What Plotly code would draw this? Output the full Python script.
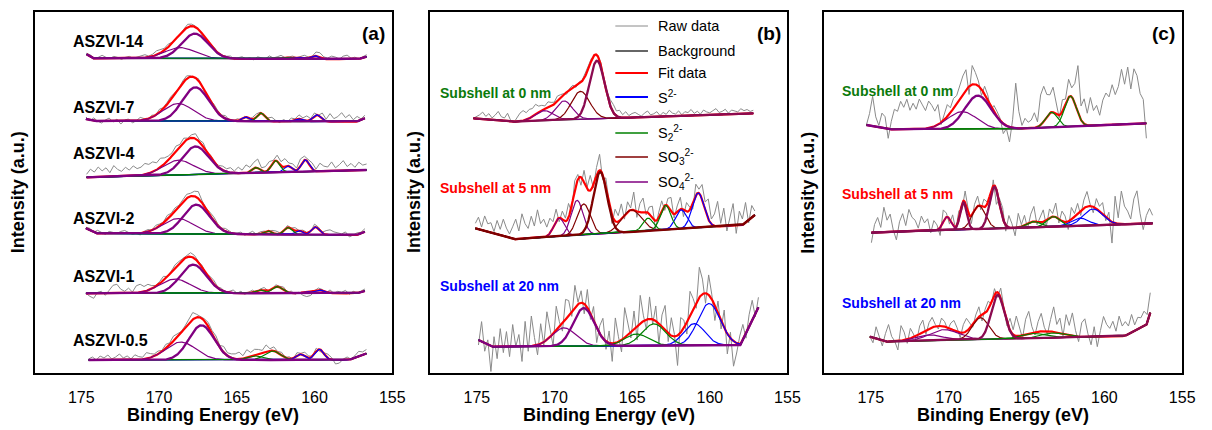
import numpy as np
import plotly.graph_objects as go

FONT = "Liberation Sans, Arial, Helvetica, sans-serif"
W, H = 1212, 430

# ------------------------------------------------------------------
# Panel (a): S 2p spectra of the ASZVI samples (stacked, arb. units)
# ------------------------------------------------------------------
a_names = ["ASZVI-14", "ASZVI-7", "ASZVI-4", "ASZVI-2", "ASZVI-1", "ASZVI-0.5"]

# Shirley-type background knots: binding energy (eV) and intensity
a14_bg_e = [174.66, 174.28, 157.2, 156.65]
a14_bg_i = [318.7, 314.7, 313.8, 316.3]
a7_bg_e = [174.7, 174.17, 157.3, 156.76]
a7_bg_i = [254.0, 252.0, 251.3, 254.7]
a4_bg_e = [174.66, 156.65]
a4_bg_i = [195.7, 203.0]
a2_bg_e = [174.7, 174.07, 157.29, 156.76]
a2_bg_i = [144.7, 139.7, 138.0, 141.3]
a1_bg_e = [174.7, 157.3, 156.76]
a1_bg_i = [79.7, 79.7, 82.0]
a05_bg_e = [174.53, 157.8, 156.66]
a05_bg_i = [13.0, 13.0, 19.5]

# fitted components: centre (eV), height above background, FWHM (eV), species
a14_c = [168.65, 167.7, 161.8, 161.0, 160.0]
a14_h = [11.0, 25.0, 1.5, 1.5, 3.3]
a14_w = [2.3, 2.0, 0.6, 0.6, 0.6]
a14_s = ["SO4", "SO4", "S22", "S2", "S2"]

a7_c = [168.75, 167.65, 164.4, 163.45, 161.0, 159.85]
a7_h = [17.7, 34.0, 4.3, 8.3, 2.7, 6.7]
a7_w = [2.3, 2.0, 0.6, 0.6, 0.6, 0.6]
a7_s = ["SO4", "SO4", "S2", "S22", "S2", "S2"]

a4_c = [168.76, 167.65, 163.77, 162.5, 161.7, 160.6]
a4_h = [14.7, 28.0, 5.3, 11.7, 6.0, 11.7]
a4_w = [2.3, 2.0, 0.6, 0.65, 0.6, 0.6]
a4_s = ["SO4", "SO4", "S22", "S22", "S2", "S2"]

a2_c = [168.76, 167.6, 163.0, 161.7, 161.0, 159.95]
a2_h = [15.3, 29.3, 3.5, 7.0, 4.0, 7.7]
a2_w = [2.3, 2.0, 0.6, 0.6, 0.6, 0.6]
a2_s = ["SO4", "SO4", "S22", "S22", "S2", "S2"]

a1_c = [168.97, 167.8, 163.5, 162.4, 160.5, 159.7]
a1_h = [14.3, 28.7, 3.3, 6.7, 1.5, 3.3]
a1_w = [2.3, 2.0, 0.8, 0.8, 0.6, 0.8]
a1_s = ["SO4", "SO4", "S22", "S22", "S2", "S2"]

a05_c = [168.6, 167.27, 163.8, 162.7, 160.9, 159.7]
a05_h = [18.0, 34.7, 4.0, 9.0, 5.7, 10.7]
a05_w = [2.3, 1.9, 1.2, 1.2, 0.7, 0.7]
a05_s = ["SO4", "SO4", "S22", "S22", "S2", "S2"]

# raw counts minus fitted envelope, on an even energy grid across each scan
a14_res = [1, 2, 0, 1, 3, 1, 0, 2, 1, -1, 1, 2, 0, 1, 2, 3, 1, 2, 4, 3, 2, 3, 1, 0, -1, 1, 3, 2, 1, 0,
           -2, -1, 1, 2, -1, 0, 1, 2, -1, 1, 2, 0, 1, -1, 2, 1, 0, 3, 1, 2, 3, 0, 1, 2, 0, 1, 3, 1, 0, 4,
           5, 2, 1, 3, 2, 0, 3, 4, 1, 2, 0, 1, 2]
a7_res = [2, -1, 3, 0, -2, 1, 3, -1, 2, -3, 1, 2, -2, 0, 3, 1, -1, 2, 0, 3, 1, 2, 3, 1, 0, 2, 3, 1, -1, 2,
          0, -2, 1, 3, 2, 1, 3, 0, -1, 2, 0, 1, -2, 2, 3, 1, 0, 2, 4, 1, -1, 2, 0, 3, 1, 4, 2, 5, 1, 3,
          0, 6, 2, 8, 3, 5, 9, 4, 7, 2, 5, 1, 3]
a4_res = [3, 8, 5, 10, 6, 9, 4, 11, 7, 5, 9, 6, 10, 7, 8, 11, 9, 10, 7, 9, 6, 4, 3, 5, 2, 4, 1, 3, 5, 2,
          4, 0, 3, 1, 2, 4, 3, 5, 2, 6, 3, 8, 4, 6, 9, 3, 5, 7, 2, 6, 4, 8, 3, 5, 2, 7, 4, 3, 6, 2,
          8, 5, 4, 9, 3, 6, 10, 4, 7, 3, 8, 5, 6]
a2_res = [1, 2, 0, 3, 1, -1, 2, 1, 0, 2, 3, 1, -1, 0, -2, 1, 2, 0, 3, 2, 1, 4, 2, 3, 1, 2, 4, 3, 5, 7,
          2, 1, 3, 4, 2, 1, 3, 2, 0, 1, 2, -1, 1, 3, 0, 2, 1, -1, 2, 3, 1, 0, 2, 1, 3, 0, 2, 1, -1, 3,
          2, 1, 4, 5, 3, 2, 1, 3, -2, 0, 2, 1, 3]
a1_res = [0, -3, -5, 1, 2, -2, 3, 8, 9, 4, 2, 5, 1, 7, 8, 5, 6, 3, 1, 2, 4, 0, 1, 3, 2, 1, 2, 4, 3, 1,
          2, 0, 3, 4, 1, 2, -1, 1, 3, 0, 2, -1, 1, 2, -2, 1, 3, 0, -1, 2, 1, 3, 0, 2, -1, 1, -3, -5, -4, 0,
          2, 1, -1, 3, 0, 2, 1, 3, -1, 2, 0, 1, 2]
a05_res = [1, 3, 0, 4, 2, 5, 1, 3, 6, 2, 4, 1, 5, 3, 2, 6, 4, 2, 3, 1, 4, 2, 5, 3, 1, 2, 4, 7, 3, 1,
           2, 4, 3, 5, 2, 6, 3, 4, 5, 7, 3, 8, 4, 6, 5, 3, 7, 2, 4, 1, 3, 0, 2, -1, 3, 1, 4, 2, 0, 3,
           -2, 1, 4, 2, -4, -3, 1, 3, 0, 2, 5, 3, 4]

# ------------------------------------------------------------------
# Panel (b): depth profile, subshell at 0 / 5 / 20 nm
# ------------------------------------------------------------------
b_names = ["Subshell at 0 nm", "Subshell at 5 nm", "Subshell at 20 nm"]

b0_bg_e = [175.23, 172.7, 157.2]
b0_bg_i = [254.7, 251.3, 259.7]
b0_c = [170.67, 169.4, 168.33, 167.27]
b0_h = [10.0, 19.0, 28.0, 58.0]
b0_w = [1.4, 1.3, 1.4, 1.15]
b0_s = ["SO4", "SO4", "SO3", "SOx"]
b0_res = [0, 2, 4, 7, 3, 6, 2, 5, 9, 4, 3, 8, 1, -1, 3, 8, 10, 7, 9, 8, 10, 6, 5, 3, 6, 4, 2, 5, 3, 1,
          -2, 2, 3, -1, 2, 1, 3, 4, 2, -1, 1, 3, 0, 2, 6, 8, 5, 7, 3, 6, 2, 4, 5, 3, 1, 4, 6, 2, 3, 5,
          1, 4, 2, 6, 3, 2, 5, 1, 4, 3, 6, 2, 4, 1, 5, 3, 2, 4, 6, 2, 3, 5, 1, 4, 3, 2, 5, 3, 4, 2, 3]

b5_bg_e = [175.1, 172.6, 157.9, 157.1]
b5_bg_i = [144.7, 133.7, 148.0, 158.0]
b5_c = [169.7, 168.55, 168.12, 167.06, 165.05, 163.98, 162.85, 161.85, 160.75]
b5_h = [18.3, 35.0, 31.0, 62.0, 22.0, 12.7, 24.3, 19.0, 34.7]
b5_w = [0.8, 0.9, 1.0, 1.05, 1.5, 0.8, 0.8, 0.85, 0.9]
b5_s = ["SO4", "SO4", "SO3", "SO3", "SO3", "S22", "S22", "S2", "S2"]
b5_res = [5, 12, 3, 15, 8, 10, 2, 14, 6, 17, 9, 4, 12, 20, 8, 25, 15, 10, 22, 12, 28, 14, 18, 9, 15,
          6, 12, -4, 8, 3, 14, -6, 10, 5, -8, 12, 2, 15, -3, 8, 16, -5, 10, 4, -8, 12, 6, 15, -4, 10,
          2, 18, -6, 9, 14, -3, 7, 12, -8, 5, 10, -5, 8, 14, -4, 6, 12, -7, 9, 3, -6, 11, 4, 15, 8,
          20, 5, 12, 25, 3, 18, -5, 10, 22, -8, 14, 6, 20, -3, 12, 4]

b20_bg_e = [174.9, 174.07, 158.03, 156.87]
b20_bg_i = [33.0, 26.3, 28.0, 65.7]
b20_c = [169.39, 168.12, 164.72, 163.6, 161.0, 160.05]
b20_h = [18.3, 38.0, 11.7, 21.7, 21.7, 41.7]
b20_w = [1.8, 1.6, 1.8, 1.8, 1.6, 1.7]
b20_s = ["SO4", "SO4", "S22", "S22", "S2", "S2"]
b20_res = [-5, 20, -8, 5, -25, 10, -12, 18, -6, 15, -10, 22, 0, 12, -15, 25, -5, 30, 8, -10, 20, -3,
           28, 10, -12, 24, 5, -8, 20, 15, -5, 22, 2, 12, -10, 18, -6, 14, -15, 8, 20, -8, 12, -18,
           25, 5, -12, 30, 10, -6, 18, -14, 28, 6, -10, 22, -5, 15, -20, 12, 25, -8, 18, 2, -30, 15,
           8, -12, 24, 10, -6, 30, 15, -10, 20, 5, -15, 12, -8, 18, -20, 6, -25, -10, 8, 15, -5, 12,
           20, -3, 10]

# ------------------------------------------------------------------
# Panel (c): depth profile of the second sample
# ------------------------------------------------------------------
c_names = ["Subshell at 0 nm", "Subshell at 5 nm", "Subshell at 20 nm"]

c0_bg_e = [175.28, 173.9, 166.5, 157.3]
c0_bg_i = [248.0, 243.7, 243.7, 249.7]
c0_c = [169.12, 168.12, 163.39, 162.18]
c0_h = [17.7, 33.7, 15.0, 30.3]
c0_w = [2.2, 2.0, 0.9, 0.9]
c0_s = ["SO4", "SO4", "S22", "S22"]
c0_res = [0, 12, 30, 10, 2, 15, 12, -9, 8, 20, 18, 28, 22, 30, 19, 26, 20, 30, 24, 18, 27, 22, 15,
          20, -2, 6, 12, 5, 10, 8, 14, 18, 20, -8, 19, 12, 5, -6, 8, 5, -4, 6, 5, 2, -10, -3, -15, 8,
          45, 17, 3, 10, 6, 8, 15, 5, 30, 35, 22, 18, 25, 10, -3, 12, 5, 18, 9, 20, 47, 14, 25, 12,
          28, 15, 20, 10, 25, 32, 28, 40, 30, 38, 55, 40, 57, 35, 55, 48, 30, 24, -15]

c5_bg_e = [174.96, 156.9]
c5_bg_i = [140.3, 149.7]
c5_c = [170.1, 169.05, 168.06, 167.06, 164.55, 163.28, 161.58, 160.73]
c5_h = [13.3, 27.3, 23.3, 41.7, 5.7, 10.0, 7.7, 16.3]
c5_w = [0.6, 0.5, 1.0, 0.75, 1.0, 1.0, 1.3, 1.5]
c5_s = ["SO4", "SOx", "SO3", "SOx", "S22", "S22", "S2", "S2"]
c5_res = [-10, 8, 15, 5, 25, 12, 18, 2, -8, 10, 18, 6, 22, 14, 11, 3, 15, 8, 12, -2, 10, 5, -8, 12,
          4, -5, 10, -3, 8, -6, 12, 4, -8, 6, 10, -4, 8, 2, -10, 6, -15, 5, 10, -6, 12, 4, -8, 14,
          2, 10, -5, 8, 15, -3, 6, 12, -6, 9, 3, 14, -4, 10, 6, -8, 12, 3, 10, -5, 8, 15, 2, -6, 10,
          5, 12, -3, 8, -21, 27, 6, 33, 18, 13, 5, 25, 33, 10, -6, 8, 15, 8]

c20_bg_e = [175.06, 174.1, 158.7, 157.3, 157.05]
c20_bg_i = [36.3, 31.3, 37.0, 48.0, 60.3]
c20_c = [171.24, 170.29, 167.95, 166.85, 164.55, 163.28]
c20_h = [5.7, 10.7, 21.7, 44.0, 4.7, 4.7]
c20_w = [2.0, 2.2, 1.25, 1.0, 1.8, 1.8]
c20_s = ["SO4", "SO4", "SO3", "SOx", "S22", "S22"]
c20_res = [0, -5, 12, 3, -5, 8, 17, 5, 0, -9, 15, 8, -4, 10, 3, -6, 8, 12, -4, 6, 10, 2, -3, 8, 5,
           -2, 6, 10, 4, -5, 8, 13, 6, -3, 5, 10, -6, 4, 8, -2, 6, -5, 10, 3, -4, 12, 5, 20, 8, -3,
           15, 22, 6, -3, 10, 18, 4, -3, 12, 25, 8, 15, -2, 20, 10, 23, 6, -5, 14, 18, 3, -8, 10,
           -10, 6, 20, 12, 8, 15, 5, 20, 10, 14, 8, 18, 6, 12, 10, 15, 8, 20]

tick_vals = [175, 170, 165, 160, 155]
legend_labels = ["Raw data", "Background", "Fit data", "S<sup>2-</sup>",
                 "S<sub>2</sub><sup>2-</sup>", "SO<sub>3</sub><sup>2-</sup>",
                 "SO<sub>4</sub><sup>2-</sup>"]

# ------------------------------------------------------------------
# styling
# ------------------------------------------------------------------
RAW_COLOR = "#8a8a8a"
BG_COLOR = "#555555"
FIT_COLOR = "#ff0000"
SPECIES_COLOR = {"S2": "#0000ff", "S22": "#008000", "SO3": "#800000",
                 "SO4": "#800080", "SOx": "#8b0a50"}
DRAW_ORDER = {"SO4": 0, "SO3": 1, "SOx": 2, "S2": 3, "S22": 4}


def peak(e, c, h, w):
    return h * np.exp(-4.0 * np.log(2.0) * ((e - c) / w) ** 2)


spectra = [
    (0, a14_bg_e, a14_bg_i, a14_c, a14_h, a14_w, a14_s, a14_res),
    (0, a7_bg_e, a7_bg_i, a7_c, a7_h, a7_w, a7_s, a7_res),
    (0, a4_bg_e, a4_bg_i, a4_c, a4_h, a4_w, a4_s, a4_res),
    (0, a2_bg_e, a2_bg_i, a2_c, a2_h, a2_w, a2_s, a2_res),
    (0, a1_bg_e, a1_bg_i, a1_c, a1_h, a1_w, a1_s, a1_res),
    (0, a05_bg_e, a05_bg_i, a05_c, a05_h, a05_w, a05_s, a05_res),
    (1, b0_bg_e, b0_bg_i, b0_c, b0_h, b0_w, b0_s, b0_res),
    (1, b5_bg_e, b5_bg_i, b5_c, b5_h, b5_w, b5_s, b5_res),
    (1, b20_bg_e, b20_bg_i, b20_c, b20_h, b20_w, b20_s, b20_res),
    (2, c0_bg_e, c0_bg_i, c0_c, c0_h, c0_w, c0_s, c0_res),
    (2, c5_bg_e, c5_bg_i, c5_c, c5_h, c5_w, c5_s, c5_res),
    (2, c20_bg_e, c20_bg_i, c20_c, c20_h, c20_w, c20_s, c20_res),
]

fig = go.Figure()


def axis_ids(k):
    return ("x", "y") if k == 0 else (f"x{k + 1}", f"y{k + 1}")


for panel, bg_e, bg_i, cen, hgt, fwhm, species, res in spectra:
    xa, ya = axis_ids(panel)
    e = np.linspace(bg_e[0], bg_e[-1], 900)
    bg = np.interp(e, np.asarray(bg_e)[::-1], np.asarray(bg_i)[::-1])
    comps = [peak(e, c, h, w) for c, h, w in zip(cen, hgt, fwhm)]
    fit = bg + np.sum(comps, axis=0)

    e_raw = np.linspace(bg_e[0], bg_e[-1], len(res))
    raw = np.interp(e_raw, e[::-1], fit[::-1]) + np.asarray(res, dtype=float)

    common = dict(xaxis=xa, yaxis=ya, mode="lines", showlegend=False, hoverinfo="skip")
    fig.add_trace(go.Scatter(x=e_raw, y=raw, line=dict(color=RAW_COLOR, width=1), **common))
    fig.add_trace(go.Scatter(x=e, y=bg, line=dict(color=BG_COLOR, width=1.5), **common))
    fig.add_trace(go.Scatter(x=e, y=fit, line=dict(color=FIT_COLOR, width=2.2), **common))

    # the dominant oxidised-sulfur component (and unresolved SOx peaks) are drawn bold
    oxide = [i for i, s in enumerate(species) if s in ("SO3", "SO4", "SOx")]
    bold = {max(oxide, key=lambda i: hgt[i])} | {i for i, s in enumerate(species) if s == "SOx"}
    thin = sorted([i for i in range(len(cen)) if i not in bold], key=lambda i: DRAW_ORDER[species[i]])
    for i in thin + sorted(bold):
        fig.add_trace(go.Scatter(
            x=e, y=bg + comps[i],
            line=dict(color=SPECIES_COLOR[species[i]], width=2.3 if i in bold else 1.2),
            **common))

# ------------------------------------------------------------------
# axes / frames
# ------------------------------------------------------------------
frame_left = [35, 435, 833]
frame_right = [396.5, 796, 1195]
frame_top, frame_bottom = 12.3, 373.0

layout = dict(
    width=W, height=H, margin=dict(l=0, r=0, t=0, b=0),
    paper_bgcolor="white", plot_bgcolor="white",
    font=dict(family=FONT, color="black"),
)
for k in range(3):
    xname = "xaxis" if k == 0 else f"xaxis{k + 1}"
    yname = "yaxis" if k == 0 else f"yaxis{k + 1}"
    xa, ya = axis_ids(k)
    layout[xname] = dict(
        domain=[frame_left[k] / W, frame_right[k] / W], anchor=ya,
        range=[178, 155], tickvals=tick_vals, ticktext=[str(v) for v in tick_vals],
        ticks="outside", ticklen=9, tickcolor="rgba(0,0,0,0)",
        tickfont=dict(size=16, family=FONT, color="black"),
        showgrid=False, zeroline=False, showline=True, mirror=True,
        linecolor="black", linewidth=1.5,
    )
    layout[yname] = dict(
        domain=[1 - frame_bottom / H, 1 - frame_top / H], anchor=xa,
        range=[0, 360.7], showticklabels=False, ticks="",
        showgrid=False, zeroline=False, showline=True, mirror=True,
        linecolor="black", linewidth=1.5,
    )
fig.update_layout(**layout)

ann = []
# axis titles and panel tags
for k, tag in enumerate(["(a)", "(b)", "(c)"]):
    cx = (frame_left[k] + frame_right[k]) / 2
    ann.append(dict(text="<b>Binding Energy (eV)</b>", xref="paper", yref="paper",
                    x=cx / W, y=1 - 415 / H, xanchor="center", yanchor="middle",
                    showarrow=False, font=dict(size=18, family=FONT)))
    ann.append(dict(text="<b>Intensity (a.u.)</b>", xref="paper", yref="paper",
                    x=(frame_left[k] - 17) / W, y=1 - 192.5 / H, xanchor="center",
                    yanchor="middle", textangle=-90, showarrow=False,
                    font=dict(size=18, family=FONT)))
    ann.append(dict(text=f"<b>{tag}</b>", xref="paper", yref="paper",
                    x=(frame_right[k] - 19) / W, y=1 - 33 / H, xanchor="center",
                    yanchor="middle", showarrow=False, font=dict(size=19, family=FONT)))

# sample names, panel (a)
a_label_y = [331, 265.7, 219.7, 154.7, 96.3, 32]
for name, yv in zip(a_names, a_label_y):
    ann.append(dict(text=f"<b>{name}</b>", xref="x", yref="y", x=175.64, y=yv,
                    xanchor="left", yanchor="middle", showarrow=False,
                    font=dict(size=16, family=FONT, color="black")))

depth_colors = ["#0b7a0b", "#ff0000", "#0000ff"]
b_label_y = [280, 185, 87]
for name, yv, col in zip(b_names, b_label_y, depth_colors):
    ann.append(dict(text=f"<b>{name}</b>", xref="x2", yref="y2", x=177.48, y=yv,
                    xanchor="left", yanchor="middle", showarrow=False,
                    font=dict(size=14, family=FONT, color=col)))
c_label_y = [282.3, 178.7, 69.7]
for name, yv, col in zip(c_names, c_label_y, depth_colors):
    ann.append(dict(text=f"<b>{name}</b>", xref="x3", yref="y3", x=176.97, y=yv,
                    xanchor="left", yanchor="middle", showarrow=False,
                    font=dict(size=14, family=FONT, color=col)))

# legend drawn inside panel (b)
legend_colors = [RAW_COLOR, "#666666", FIT_COLOR, SPECIES_COLOR["S2"], SPECIES_COLOR["S22"],
                 SPECIES_COLOR["SO3"], SPECIES_COLOR["SO4"]]
legend_widths = [1, 2, 2, 2, 1.5, 1.5, 1.5]
legend_rows = [26, 51, 73, 97, 133, 157, 182]
shapes = []
for lab, col, lw, row in zip(legend_labels, legend_colors, legend_widths, legend_rows):
    shapes.append(dict(type="line", xref="paper", yref="paper",
                       x0=622 / W, x1=655 / W, y0=1 - row / H, y1=1 - row / H,
                       line=dict(color=col, width=lw)))
    ann.append(dict(text=lab, xref="paper", yref="paper", x=663 / W, y=1 - row / H,
                    xanchor="left", yanchor="middle", showarrow=False,
                    font=dict(size=14.5, family=FONT, color="black")))

fig.update_layout(annotations=ann, shapes=shapes)
fig.write_html("out.html")
